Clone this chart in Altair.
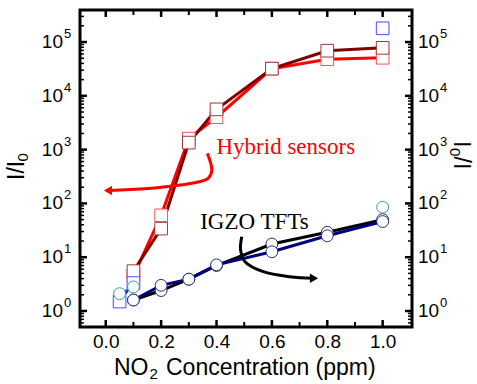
import altair as alt
import pandas as pd

# ---------------- data ----------------
x_hyb = [0.1, 0.2, 0.3, 0.4, 0.6, 0.8, 1.0]
hyb_dark = [5.5, 34, 1350, 5600, 32000, 69000, 78000]
hyb_red = [4.5, 60, 1600, 4000, 32000, 48000, 51000]

x_igzo = [0.1, 0.2, 0.3, 0.4, 0.6, 0.8, 1.0]
igzo_black = [1.6, 2.4, 3.9, 7.0, 17.6, 29, 50]
igzo_navy = [1.6, 3.0, 3.9, 7.2, 12.6, 25, 46]

x_extra = [0.05, 0.1, 1.0]
blue_sq = [1.5, 3.3, 180000]
teal_circ = [2.1, 2.8, 85]

# annotation arrow paths (data coordinates)
red_arrow_x = [0.367, 0.383, 0.370, 0.304, 0.196, 0.088, 0.008]
red_arrow_y = [853, 418, 293, 234, 198, 181, 174]
blk_arrow_x = [0.491, 0.487, 0.503, 0.569, 0.665, 0.752]
blk_arrow_y = [24.0, 13.6, 8.25, 5.38, 4.34, 4.05]

x_major = [0.0, 0.2, 0.4, 0.6, 0.8, 1.0]
x_minor = [0.1, 0.3, 0.5, 0.7, 0.9]
y_major = [1, 10, 100, 1000, 10000, 100000]
y_exp = ["0", "1", "2", "3", "4", "5"]
y_minor = [m * 10.0 ** k for k in range(-1, 6) for m in range(2, 10)
           if 0.504 < m * 10.0 ** k < 394000]

W, H = 332, 317

xs = alt.Scale(domain=[-0.093, 1.106], nice=False, zero=False)
ys = alt.Scale(type="log", domain=[0.504, 394000], nice=False)

x_axis = alt.Axis(values=x_major, format=".1f", domain=False, ticks=False,
                  grid=False, labelFont="Liberation Sans", labelFontSize=19,
                  labelColor="black", labelPadding=5, title=None,
                  labelFlush=False)


def X(f="x"):
    return alt.X(f"{f}:Q", scale=xs, axis=x_axis)


def Y(f="y"):
    return alt.Y(f"{f}:Q", scale=ys, axis=None)


def df(xv, yv):
    return pd.DataFrame({"x": xv, "y": yv, "i": list(range(len(xv)))})


def line(d, color, width=3, interp="linear"):
    return alt.Chart(d).mark_line(color=color, strokeWidth=width,
                                  interpolate=interp).encode(
        x=X(), y=Y(), order=alt.Order("i:Q"))


def pts(d, color, shape, size):
    return alt.Chart(d).mark_point(shape=shape, filled=True, fill="white",
                                   stroke=color, strokeWidth=1, size=size,
                                   opacity=1).encode(x=X(), y=Y())


layers = []

# data lines
layers += [
    line(df(x_hyb, hyb_red), "#FF0000"),
    line(df(x_hyb, hyb_dark), "#800000"),
    line(df(x_igzo, igzo_black), "#000000"),
    line(df(x_igzo, igzo_navy), "#000080"),
    line(df(x_extra[:2], blue_sq[:2]), "#0000FF", 2),
    line(df(x_extra[:2], teal_circ[:2]), "#008080", 2),
]

# markers
layers += [
    pts(df(x_hyb, hyb_red), "#FF5050", "square", 160),
    pts(df(x_hyb, hyb_dark), "#9A3A3A", "square", 160),
    pts(df(x_igzo, igzo_black), "#303030", "circle", 140),
    pts(df(x_igzo, igzo_navy), "#2A2A9A", "circle", 140),
    pts(df(x_extra, blue_sq), "#4A4AFF", "square", 160),
    pts(df(x_extra, teal_circ), "#3A9A9A", "circle", 140),
]

# annotation arrows
ra = df(red_arrow_x, red_arrow_y)
ba = df(blk_arrow_x, blk_arrow_y)
layers += [
    line(ra, "#FF0000", 3, "catmull-rom"),
    line(ba, "#000000", 3, "catmull-rom"),
    alt.Chart(ra.tail(1)).mark_point(shape="triangle-left", filled=True,
                                     color="#FF0000", size=90, opacity=1
                                     ).encode(x=X(), y=Y()),
    alt.Chart(ba.tail(1)).mark_point(shape="triangle-right", filled=True,
                                     color="#000000", size=90, opacity=1
                                     ).encode(x=X(), y=Y()),
]

# annotation texts
ann = pd.DataFrame({"x": [0.40], "y": [1120], "t": ["Hybrid sensors"]})
ann2 = pd.DataFrame({"x": [0.341], "y": [45], "t": ["IGZO TFTs"]})
layers += [
    alt.Chart(ann).mark_text(align="left", baseline="middle",
                             font="Liberation Serif", fontSize=23,
                             color="#FF0000").encode(x=X(), y=Y(), text="t:N"),
    alt.Chart(ann2).mark_text(align="left", baseline="middle",
                              font="Liberation Serif", fontSize=23,
                              color="#000000").encode(x=X(), y=Y(), text="t:N"),
]

# inward ticks
xmaj = pd.DataFrame({"v": x_major})
xmin = pd.DataFrame({"v": x_minor})
ymaj = pd.DataFrame({"v": y_major, "b": ["10"] * 6, "e": y_exp})
ymin = pd.DataFrame({"v": y_minor})


def xtick(d, y0, y1, w):
    return alt.Chart(d).mark_rule(color="black", strokeWidth=w).encode(
        x=X("v"), y=alt.value(y0), y2=alt.value(y1))


def ytick(d, x0, x1, w):
    return alt.Chart(d).mark_rule(color="black", strokeWidth=w).encode(
        y=Y("v"), x=alt.value(x0), x2=alt.value(x1))


layers += [
    xtick(xmaj, H, H - 7, 2.5), xtick(xmin, H, H - 5, 2),
    xtick(xmaj, 0, 7, 2.5), xtick(xmin, 0, 5, 2),
    ytick(ymaj, 0, 7, 2.5), ytick(ymin, 0, 4, 1.5),
    ytick(ymaj, W, W - 7, 2.5), ytick(ymin, W, W - 4, 1.5),
]

# y tick labels (10 with superscript exponent), both sides
lab = dict(font="Liberation Sans", color="black", baseline="middle")
layers += [
    alt.Chart(ymaj).mark_text(align="right", fontSize=19, **lab).encode(
        x=alt.value(-17), y=Y("v"), text="b:N"),
    alt.Chart(ymaj).mark_text(align="left", fontSize=13, dy=-8, **lab).encode(
        x=alt.value(-16), y=Y("v"), text="e:N"),
    alt.Chart(ymaj).mark_text(align="left", fontSize=19, **lab).encode(
        x=alt.value(W + 6), y=Y("v"), text="b:N"),
    alt.Chart(ymaj).mark_text(align="left", fontSize=13, dy=-8, **lab).encode(
        x=alt.value(W + 28), y=Y("v"), text="e:N"),
]


def txt(t, px, py, size, angle=0, dy=0):
    return alt.Chart(pd.DataFrame({"t": [t]})).mark_text(
        align="left", baseline="middle", font="Liberation Sans",
        fontSize=size, color="black", angle=angle, dy=dy).encode(
        x=alt.value(px), y=alt.value(py), text="t:N")


# axis titles
layers += [
    txt("NO", 34, 358, 23),
    txt("2", 69.5, 364, 15),
    txt("Concentration (ppm)", 86, 358, 23),
    # left: I/I0 reading upward
    txt("I/I", -63, 170, 23, 270),
    txt("0", -63, 151.5, 15, 270, 6),
    # right: I0/I reading downward
    txt("I", 381, 131, 23, 90),
    txt("0", 381, 138, 15, 90, 6),
    txt("/I", 381, 146.5, 23, 90),
]

chart = alt.layer(*layers).properties(
    width=W, height=H,
    autosize=alt.AutoSizeParams(type="none"),
    padding={"left": 80, "top": 10, "right": 65, "bottom": 57},
    background="white",
).configure_view(stroke="black", strokeWidth=3)

chart.save("out.html", embed_options={"renderer": "svg", "actions": False})
